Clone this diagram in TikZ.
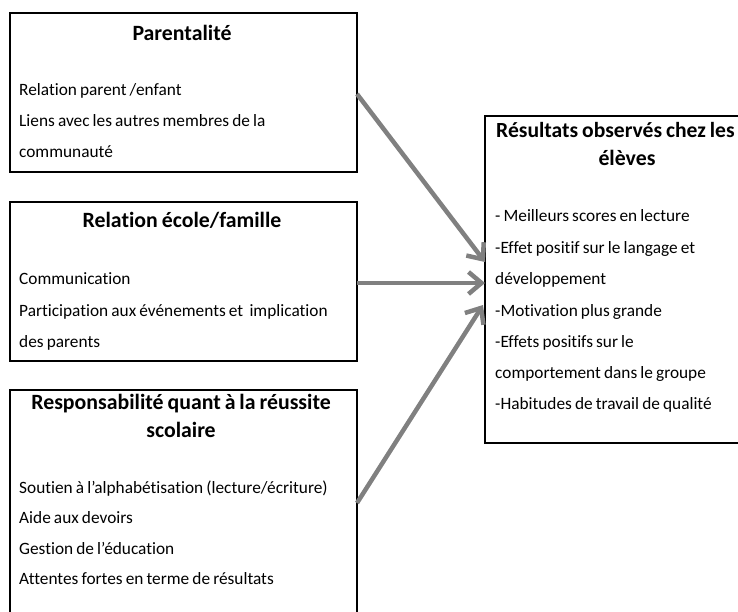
\documentclass[tikz,border=0pt]{standalone}
\usepackage{fontspec}
\setmainfont{Carlito}[Ligatures={NoCommon,NoContextual}, WordSpace=0.8]
\usetikzlibrary{arrows.meta}
\definecolor{arrowgray}{RGB}{128,128,128}
\tikzset{
  boxframe/.style={draw=black, line width=2pt, fill=white, inner sep=0pt, outer sep=0pt, anchor=north west},
  bodytext/.style={anchor=base west, inner sep=0pt, font=\fontsize{17.3}{20}\selectfont},
  titletext/.style={anchor=base, inner sep=0pt, font=\fontsize{21.8}{24}\selectfont\bfseries},
  titleleft/.style={anchor=base west, inner sep=0pt, font=\fontsize{21.6}{24}\selectfont\bfseries},
  flow/.style={draw=arrowgray, line width=4.5pt, -{Straight Barb[length=13pt,width=22pt,line width=4.5pt]}}
}
\begin{document}
\begin{tikzpicture}[x=1pt,y=-1pt]
\useasboundingbox (0,0) rectangle (738,612);
\clip (0,0) rectangle (738,612);
% boxes
\node[boxframe, minimum width=347pt, minimum height=159pt] (b1) at (10,13) {};
\node[boxframe, minimum width=347pt, minimum height=159pt] (b2) at (10,202) {};
\node[boxframe, minimum width=347pt, minimum height=260pt] (b3) at (10,390) {};
\node[boxframe, minimum width=300pt, minimum height=327pt] (res) at (485,116) {};
% box 1
\node[titletext] (t1) at (182,41) {Parentalité};
\node[bodytext] (l11) at (19,96) {Relation parent /enfant};
\node[bodytext] (l12) at (19,127) {Liens avec les autres membres de la};
\node[bodytext] (l13) at (19,158) {communauté};
% box 2
\node[titletext] (t2) at (182,228) {Relation école/famille};
\node[bodytext] (l21) at (19,284) {Communication};
\node[bodytext] (l22) at (19,316) {Participation aux événements et\ \ implication};
\node[bodytext] (l23) at (19,347) {des parents};
% box 3
\node[titletext] (t3a) at (181,409) {Responsabilité quant à la réussite};
\node[titletext] (t3b) at (181,437) {scolaire};
\node[bodytext] (l31) at (19,493) {Soutien à l’alphabétisation (lecture/écriture)};
\node[bodytext] (l32) at (19,523) {Aide aux devoirs};
\node[bodytext] (l33) at (19,554) {Gestion de l’éducation};
\node[bodytext] (l34) at (19,584) {Attentes fortes en terme de résultats};
% result box
\node[titleleft] (t4a) at (496,138) {Résultats observés chez les};
\node[titletext] (t4b) at (627,166) {élèves};
\node[bodytext] (r1) at (495,222) {- Meilleurs scores en lecture};
\node[bodytext] (r2) at (495,253) {-Effet positif sur le langage et};
\node[bodytext] (r3) at (495,284) {développement};
\node[bodytext] (r4) at (495,316) {-Motivation plus grande};
\node[bodytext] (r5) at (495,347) {-Effets positifs sur le};
\node[bodytext] (r6) at (495,378) {comportement dans le groupe};
\node[bodytext] (r7) at (495,409) {-Habitudes de travail de qualité};
% arrow end points
\coordinate (s1) at (b1.east |- 0,94);
\coordinate (e1) at (res.west |- 0,262);
\coordinate (s2) at (b2.east |- 0,283);
\coordinate (e2) at (res.west |- 0,283);
\coordinate (s3) at (b3.east |- 0,503);
\coordinate (e3) at ([xshift=-2pt]res.west |- 0,305);
\draw[flow] (s1) -- (e1);
\draw[flow] (s2) -- (e2);
\draw[flow] (s3) -- (e3);
\end{tikzpicture}
\end{document}
